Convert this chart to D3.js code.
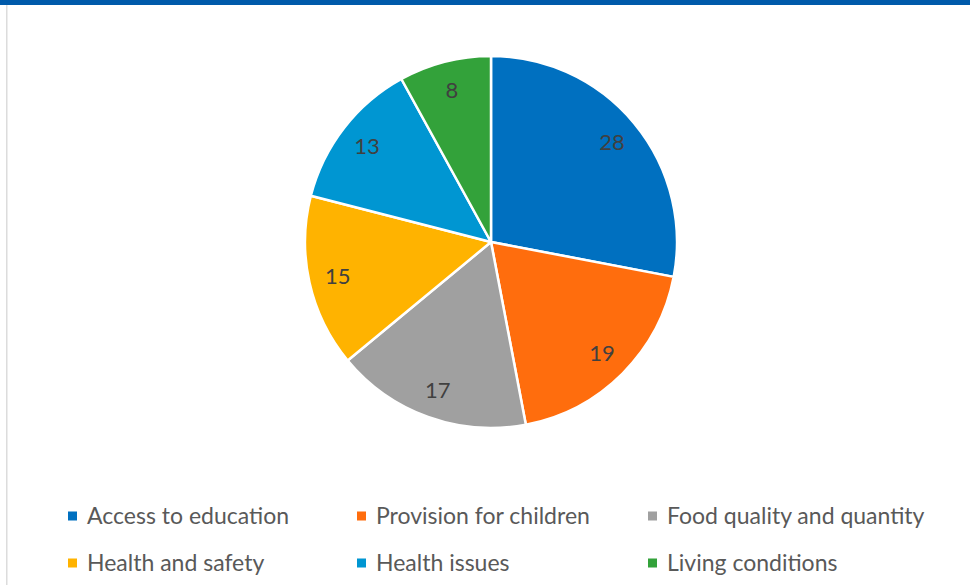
<!DOCTYPE html>
<html>
<head>
<meta charset="utf-8">
<script src="https://cdn.jsdelivr.net/npm/d3@7"></script>
<style>
  html, body { margin: 0; padding: 0; background: #fff; }
  svg { display: block; }
</style>
</head>
<body>
<svg id="chart" width="970" height="585"></svg>
<script>
// Share of responses by topic (percent)
const categories = ["Access to education", "Provision for children", "Food quality and quantity",
                    "Health and safety", "Health issues", "Living conditions"];
const values = [28, 19, 17, 15, 13, 8];
const colors = ["#0070C0", "#FF6D0D", "#A0A0A0", "#FFB300", "#0096D2", "#33A23A"];

const W = 970, H = 585;
const cx = 491, cy = 242, R = 186;

const svg = d3.select("#chart");

// frame: blue band on top, thin grey rule on the left
svg.append("rect").attr("x", 0).attr("y", 0).attr("width", W).attr("height", 5).attr("fill", "#005AAA");
svg.append("rect").attr("x", 6).attr("y", 5).attr("width", 1.5).attr("height", H - 5).attr("fill", "#DCDCDC");

const pie = d3.pie().sort(null).value(d => d.value);
const data = pie(categories.map((c, i) => ({ name: c, value: values[i], color: colors[i] })));

const arc = d3.arc().innerRadius(0).outerRadius(R);
const labelArc = d3.arc().innerRadius(157).outerRadius(157);

const g = svg.append("g").attr("transform", `translate(${cx},${cy})`);

g.selectAll("path.slice")
  .data(data)
  .join("path")
  .attr("class", "slice")
  .attr("d", arc)
  .attr("fill", d => d.data.color)
  .attr("stroke", "#fff")
  .attr("stroke-width", 2.5)
  .attr("stroke-linejoin", "round");

g.selectAll("text.val")
  .data(data)
  .join("text")
  .attr("class", "val")
  .attr("transform", d => `translate(${labelArc.centroid(d)})`)
  .attr("text-anchor", "middle")
  .attr("dy", "0.36em")
  .attr("font-family", "Lato, 'Open Sans', sans-serif")
  .attr("font-size", 22)
  .attr("fill", "#404040")
  .text(d => d.data.value);

// legend: three columns, two rows
const colX = d3.scaleOrdinal().domain([0, 1, 2]).range([68, 357, 648]);
const rowY = d3.scaleOrdinal().domain([0, 1]).range([516, 563]);

const leg = svg.append("g").selectAll("g")
  .data(categories)
  .join("g")
  .attr("transform", (d, i) => `translate(${colX(i % 3)},${rowY(Math.floor(i / 3))})`);

leg.append("rect")
  .attr("x", 0).attr("y", -4.5)
  .attr("width", 9).attr("height", 9)
  .attr("fill", (d, i) => colors[i]);

leg.append("text")
  .attr("x", 19)
  .attr("dy", "0.36em")
  .attr("font-family", "Lato, 'Open Sans', sans-serif")
  .attr("font-size", 23)
  .attr("fill", "#595959")
  .text(d => d);
</script>
</body>
</html>
